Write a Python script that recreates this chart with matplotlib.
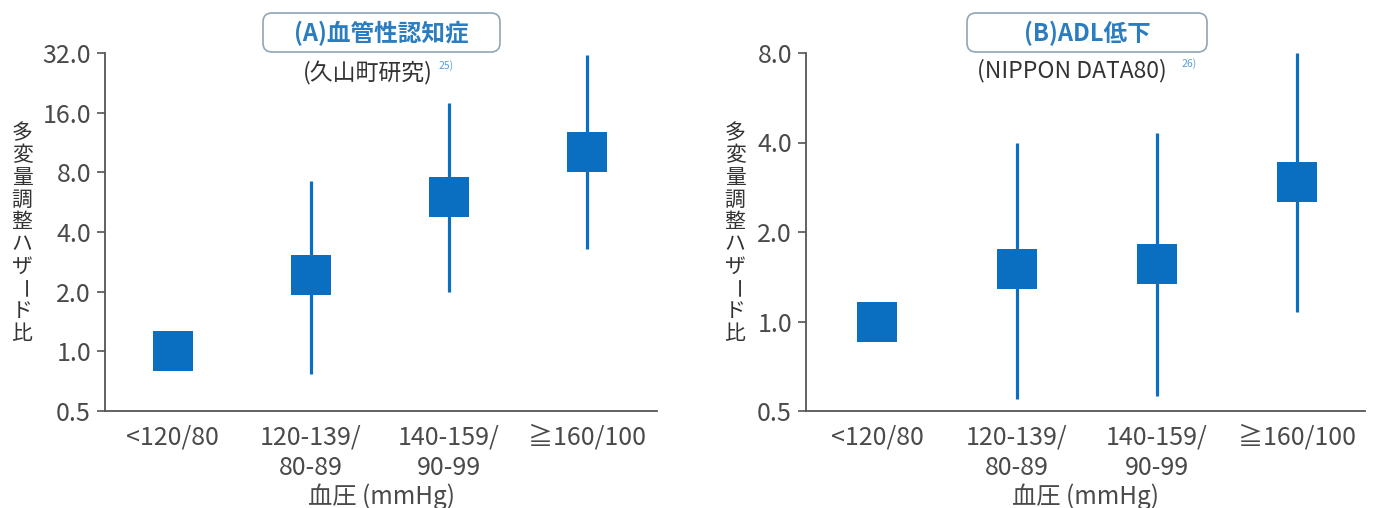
import matplotlib.pyplot as plt
from matplotlib.patches import FancyBboxPatch
import numpy as np

plt.rcParams['font.family'] = ['Noto Sans CJK JP', 'DejaVu Sans']

categories = ['<120/80', '120-139/\n80-89', '140-159/\n90-99', '≧160/100']

# (A) vascular dementia, Hisayama study
hr_a = [1.0, 2.42, 6.0, 10.1]
lo_a = [np.nan, 0.77, 2.0, 3.27]
hi_a = [np.nan, 7.27, 17.8, 31.4]
ticks_a = [0.5, 1.0, 2.0, 4.0, 8.0, 16.0, 32.0]

# (B) ADL decline, NIPPON DATA80
hr_b = [1.0, 1.50, 1.56, 2.94]
lo_b = [np.nan, 0.55, 0.56, 1.08]
hi_b = [np.nan, 4.0, 4.32, 8.0]
ticks_b = [0.5, 1.0, 2.0, 4.0, 8.0]

title_a = '(A)血管性認知症'
title_b = '(B)ADL低下'
sub_a = '(久山町研究)'
sub_b = '(NIPPON DATA80)'
ref_a = '25)'
ref_b = '26)'
ylabel = '多変量調整ハザード比'
xlabel = '血圧 (mmHg)'

blue = '#0b6fc1'
grey = '#4a4a4a'

W, H = 1380, 508
fig = plt.figure(figsize=(W / 100, H / 100), dpi=100)

def px(x0, y0, x1, y1):
    return [x0 / W, 1 - y1 / H, (x1 - x0) / W, (y1 - y0) / H]

ax_a = fig.add_axes(px(105, 53, 657, 411))
ax_b = fig.add_axes(px(806, 53, 1365, 411))


def panel(ax, hr, lo, hi, ticks, xlim):
    x = np.arange(len(hr))
    ax.vlines(x, lo, hi, color=blue, lw=2.3)
    ax.plot(x, hr, 's', ms=29.5, color=blue, mec=blue, mew=0)
    ax.set_yscale('log')
    ax.set_ylim(ticks[0], ticks[-1])
    ax.set_yticks(ticks)
    ax.set_yticklabels(['%.1f' % t for t in ticks])
    ax.minorticks_off()
    ax.set_xlim(*xlim)
    ax.set_xticks(x)
    ax.set_xticklabels(categories, linespacing=1.2)
    for s in ['top', 'right']:
        ax.spines[s].set_visible(False)
    for s in ['left', 'bottom']:
        ax.spines[s].set_color('#555555')
        ax.spines[s].set_linewidth(1.3)
    ax.tick_params(axis='y', length=6, width=1.2, color='#555555',
                   labelsize=18, labelcolor=grey, pad=4)
    ax.tick_params(axis='x', length=0, labelsize=18, labelcolor=grey, pad=10)
    ax.set_xlabel(xlabel, fontsize=17.5, color=grey, labelpad=2)


panel(ax_a, hr_a, lo_a, hi_a, ticks_a, (-0.49, 3.51))
panel(ax_b, hr_b, lo_b, hi_b, ticks_b, (-0.51, 3.49))

# title boxes
for (x0, x1, cx, title) in [(263, 500, 381, title_a), (967, 1207, 1087, title_b)]:
    box = FancyBboxPatch((x0 / 100, (H - 52) / 100), (x1 - x0) / 100, 0.39,
                         boxstyle='round,pad=0,rounding_size=0.09',
                         transform=fig.dpi_scale_trans, fc='white',
                         ec='#8fa6b8', lw=1.2)
    fig.patches.append(box)
    fig.text(cx / W, 1 - 33 / H, title, ha='center', va='center',
             fontsize=17, color='#2a7dc0', fontweight='bold')

# subtitles with reference marks
fig.text(368 / W, 1 - 73 / H, sub_a, ha='center', va='center', fontsize=16.5, color='#333333')
fig.text(439 / W, 1 - 66 / H, ref_a, ha='left', va='center', fontsize=7.5, color='#5a9fd8')
fig.text(1072 / W, 1 - 71 / H, sub_b, ha='center', va='center', fontsize=16.5, color='#333333')
fig.text(1182 / W, 1 - 64 / H, ref_b, ha='left', va='center', fontsize=7.5, color='#5a9fd8')

# vertical y labels
for cx in [22, 735]:
    for i, ch in enumerate(ylabel):
        cy = 133 + i * 22.3
        fig.text(cx / W, 1 - cy / H, ch, ha='center', va='center',
                 fontsize=15, color='#333333',
                 rotation=-90 if ch == 'ー' else 0)

fig.savefig('out.png', dpi=100, facecolor='white')
